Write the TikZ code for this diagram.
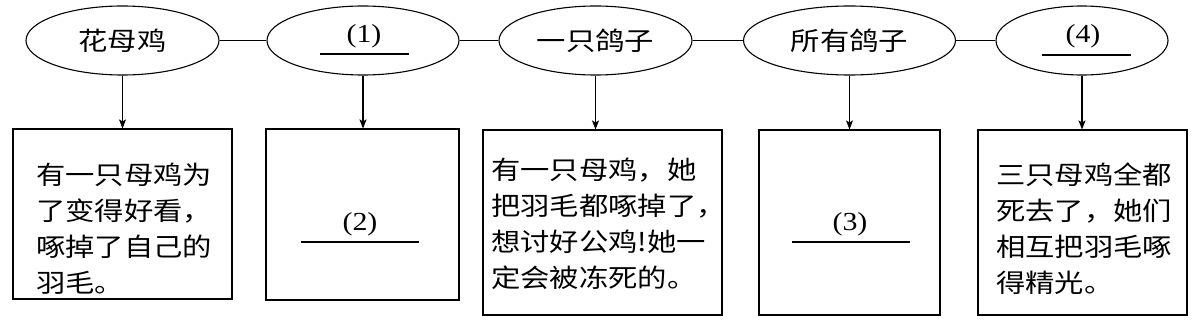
\documentclass[tikz,border=0pt]{standalone}
\usepackage{fontspec}
\setmainfont{Liberation Serif}
\newfontfamily\cjk{Noto Sans CJK SC}
\usetikzlibrary{shapes.geometric,arrows.meta,calc}
\newcommand{\hs}[1]{\scalebox{1.15}[1]{#1}}
\newcommand{\blocktext}[1]{\scalebox{1.15}[1]{\begin{tabular}[t]{@{}l@{}}#1\end{tabular}}}
\begin{document}
\begin{tikzpicture}[x=1pt,y=-1pt,
  oval/.style={ellipse,draw,line width=1.1pt,minimum height=69pt,inner sep=0pt,
    font=\cjk\fontsize{25.5}{30}\selectfont},
  box/.style={rectangle,draw,line width=1.1pt,inner sep=0pt},
  txt/.style={inner sep=0pt,anchor=base west,
    font=\cjk\fontsize{25.5}{36}\selectfont},
  num/.style={inner sep=0pt,font=\fontsize{26}{30}\selectfont},
  link/.style={line width=1.1pt},
  arr/.style={line width=1.1pt,-{Stealth[length=9pt,width=7pt,inset=2pt]}},
  blank/.style={line width=1.2pt}
]
\useasboundingbox (0,0) rectangle (1197,323);
% ellipses
\node[oval,minimum width=193pt] (e1) at (122.5,40.5) {\hs{花母鸡}};
\node[oval,minimum width=192pt] (e2) at (363,40.5) {};
\node[oval,minimum width=193pt] (e3) at (595.5,40.5) {\hs{一只鸽子}};
\node[oval,minimum width=212pt] (e4) at (849.5,40.5) {\hs{所有鸽子}};
\node[oval,minimum width=172pt] (e5) at (1082,40.5) {};
% connecting lines
\draw[link] (e1.east) -- (e2.west);
\draw[link] (e2.east) -- (e3.west);
\draw[link] (e3.east) -- (e4.west);
\draw[link] (e4.east) -- (e5.west);
% labels in ellipses
\node[num] (l1) at (364,36.5) {\hs{(1)}};
\draw[blank] (320,54) -- (409,54);
\node[num] (l4) at (1083,36.5) {\hs{(4)}};
\draw[blank] (1042,55) -- (1131,55);
% boxes
\node[box,minimum width=219pt,minimum height=170pt] (b1) at (122.5,214) {};
\node[box,minimum width=193pt,minimum height=171pt] (b2) at (362.5,214.5) {};
\node[box,minimum width=239pt,minimum height=185pt] (b3) at (602.5,222.5) {};
\node[box,minimum width=181pt,minimum height=185pt] (b4) at (849.5,222.5) {};
\node[box,minimum width=209pt,minimum height=185pt] (b5) at (1082.5,222.5) {};
% arrows
\draw[arr] (e1.south) -- (e1.south |- b1.north);
\draw[arr] (e2.south) -- (e2.south |- b2.north);
\draw[arr] (e3.south) -- (e3.south |- b3.north);
\draw[arr] (e4.south) -- (e4.south |- b4.north);
\draw[arr] (e5.south) -- (e5.south |- b5.north);
% box texts
\node[txt] (t1) at (36,185) {\blocktext{有一只母鸡为\\了变得好看，\\啄掉了自己的\\羽毛。}};
\node[num] (l2) at (360,224.5) {\hs{(2)}};
\draw[blank] (301,242) -- (419,242);
\node[txt] (t3) at (491,180) {\blocktext{有一只母鸡，她\\把羽毛都啄掉了，\\想讨好公鸡!她一\\定会被冻死的。}};
\node[num] (l3) at (850,224.5) {\hs{(3)}};
\draw[blank] (792,242) -- (910,242);
\node[txt] (t5) at (996,184.5) {\blocktext{三只母鸡全都\\死去了，她们\\相互把羽毛啄\\得精光。}};
\end{tikzpicture}
\end{document}
